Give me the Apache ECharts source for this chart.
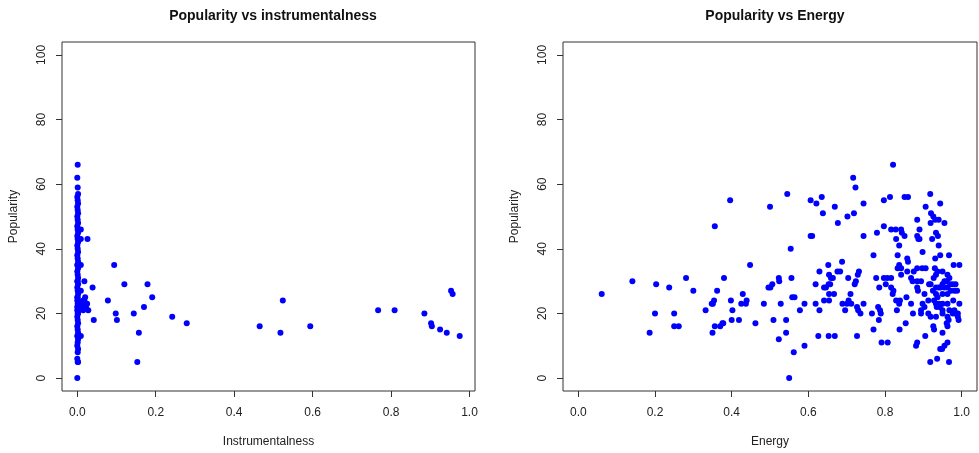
<!DOCTYPE html>
<html>
<head>
<meta charset="utf-8">
<script src="https://cdn.jsdelivr.net/npm/echarts@6/dist/echarts.min.js"></script>
<style>
html,body{margin:0;padding:0;background:#fff;}
#chart{width:979px;height:453px;}
</style>
</head>
<body>
<div id="chart"></div>
<script>
// ---- Tick labels ----
const xTickValues = [0, 0.2, 0.4, 0.6, 0.8, 1.0];
const xTickLabels = ['0.0', '0.2', '0.4', '0.6', '0.8', '1.0'];
const yTickValues = [0, 20, 40, 60, 80, 100];
const yTickLabels = ['0', '20', '40', '60', '80', '100'];

// ---- Popularity vs instrumentalness ----
const instX = [
  0, 0.001, 0.002, 0, 0.001, 0.002, 0, 0.001, 0.002, 0.001, 0, 0.002, 0.001, 0, 0.002, 0.001, 0, 0.002,
  0.001, 0, 0.002, 0.001, 0, 0.002, 0.001, 0, 0.002, 0.001, 0, 0.002, 0.001, 0, 0.002, 0.001, 0, 0.002,
  0.001, 0, 0.002, 0.001, 0, 0.002, 0.001, 0, 0.002, 0.001, 0, 0.002, 0.001, 0, 0.002, 0.001, 0, 0.002,
  0.001, 0, 0.002, 0.001, 0, 0.002, 0.001, 0, 0.002, 0.001, 0, 0.001,
  0.009, 0.009, 0.026, 0.009, 0.018, 0.009, 0.020, 0.015, 0.012, 0.009, 0.015, 0.028, 0.022, 0.025, 0.018,
  0.009, 0.042, 0.039, 0.078, 0.094, 0.098, 0.101, 0.120, 0.144, 0.153, 0.157, 0.170, 0.179, 0.191,
  0.242, 0.279, 0.465, 0.518, 0.524, 0.594, 0.767, 0.809, 0.885, 0.902, 0.904, 0.925, 0.942, 0.953, 0.957, 0.975
];
const instY = [
  0, 5, 5, 6, 8, 9, 10, 11, 12, 13, 13, 14, 15, 16, 17, 18, 19, 20,
  20, 21, 21, 22, 22, 23, 23, 24, 24, 25, 25, 26, 27, 28, 29, 30, 30, 31,
  32, 33, 34, 35, 35, 36, 37, 38, 39, 40, 41, 42, 43, 44, 45, 46, 47, 48,
  49, 50, 51, 52, 53, 54, 55, 56, 57, 59, 62, 66,
  46, 43, 43, 35, 30, 27, 25, 24, 23, 22, 21, 21, 22, 23, 24,
  13, 18, 28, 24, 35, 20, 18, 29, 20, 5, 14, 22, 29, 25,
  19, 17, 16, 14, 24, 16, 21, 21, 20, 17, 16, 15, 14, 27, 26, 13
];

// ---- Popularity vs Energy ----
const energyX = [
  0.061, 0.141, 0.203, 0.200, 0.186, 0.237, 0.250, 0.250, 0.262, 0.281, 0.300, 0.332, 0.348, 0.351, 0.354,
  0.356, 0.362, 0.350, 0.356, 0.370, 0.376, 0.378, 0.380, 0.396, 0.398, 0.402, 0.400, 0.419, 0.429, 0.425,
  0.437, 0.439, 0.448, 0.462, 0.484, 0.496,
  0.500, 0.501, 0.506, 0.523, 0.524, 0.509, 0.523, 0.528, 0.542, 0.542, 0.545, 0.550, 0.554, 0.556, 0.558,
  0.564, 0.562, 0.578, 0.590, 0.590, 0.606, 0.621, 0.635, 0.638, 0.669, 0.677, 0.606, 0.610, 0.619, 0.619,
  0.629, 0.626, 0.653, 0.669, 0.629, 0.641, 0.646, 0.653, 0.657, 0.652, 0.654, 0.659, 0.664, 0.654, 0.667,
  0.641, 0.654, 0.676, 0.683,
  0.821, 0.717, 0.723, 0.744, 0.797, 0.813, 0.851, 0.860, 0.918, 0.944, 0.906, 0.920, 0.926, 0.931, 0.940,
  0.955, 0.702, 0.719, 0.744, 0.779, 0.797, 0.816, 0.828, 0.842, 0.844, 0.851, 0.829, 0.837, 0.884, 0.890,
  0.919, 0.884, 0.887, 0.890, 0.923, 0.933, 0.938, 0.940, 0.898, 0.770, 0.688, 0.833, 0.858, 0.860, 0.931,
  0.944, 0.967, 0.979, 0.994, 0.732, 0.729, 0.724, 0.721, 0.704, 0.710, 0.689, 0.701, 0.705, 0.712, 0.696,
  0.727, 0.730, 0.736, 0.744, 0.777, 0.797, 0.806, 0.816, 0.785, 0.802, 0.816, 0.822, 0.820, 0.766, 0.782,
  0.787, 0.789, 0.784, 0.770, 0.727, 0.791, 0.807, 0.829, 0.837, 0.839, 0.831, 0.838, 0.854, 0.868, 0.856,
  0.873, 0.837, 0.833, 0.842, 0.842, 0.858, 0.868, 0.872, 0.884, 0.886, 0.875, 0.884, 0.897, 0.906, 0.884,
  0.894, 0.903, 0.898, 0.903, 0.894, 0.894, 0.913, 0.913, 0.915, 0.919, 0.927, 0.933, 0.930, 0.937, 0.950,
  0.963, 0.968, 0.955, 0.961, 0.970, 0.977, 0.984, 0.933, 0.940, 0.945, 0.950, 0.925, 0.933, 0.937, 0.955,
  0.963, 0.972, 0.981, 0.988, 0.950, 0.963, 0.928, 0.933, 0.941, 0.950, 0.963, 0.978, 0.994, 0.935, 0.943,
  0.950, 0.919, 0.933, 0.950, 0.968, 0.981, 0.990, 0.977, 0.984, 0.963, 0.966, 0.961, 0.963, 0.990, 0.992,
  0.926, 0.928, 0.950, 0.905, 0.963, 0.955, 0.949, 0.944, 0.884, 0.881, 0.918, 0.936, 0.967
];
const energyY = [
  26, 30, 29, 20, 14, 28, 20, 16, 16, 31, 27, 21, 23, 23, 24,
  47, 27, 14, 16, 16, 17, 17, 31, 55, 24, 21, 18, 18, 26, 23,
  23, 24, 35, 17, 23, 28,
  53, 28, 29, 31, 30, 18, 12, 23, 18, 14, 57, 0, 40, 31, 25,
  25, 8, 21, 23, 10, 55, 54, 56, 51, 53, 48, 44, 44, 29, 23,
  21, 13, 13, 13, 33, 28, 28, 29, 29, 35, 32, 31, 31, 26, 26,
  24, 24, 33, 33,
  66, 62, 59, 54, 55, 56, 56, 56, 57, 54, 53, 51, 50, 49, 49,
  48, 50, 51, 44, 45, 47, 46, 46, 46, 45, 44, 43, 41, 49, 46,
  48, 44, 43, 43, 43, 45, 44, 41, 39, 38, 36, 38, 37, 36, 37,
  38, 38, 35, 35, 33, 32, 30, 29, 31, 26, 23, 23, 24, 23, 21,
  22, 21, 20, 23, 31, 31, 31, 31, 28, 29, 28, 27, 26, 20, 22,
  21, 20, 18, 15, 13, 11, 11, 24, 23, 24, 21, 15, 17, 23, 25,
  20, 35, 34, 34, 32, 33, 31, 30, 28, 27, 33, 34, 34, 34, 30,
  30, 26, 23, 22, 21, 20, 20, 24, 29, 29, 31, 32, 34, 33, 33,
  32, 31, 30, 30, 29, 29, 29, 28, 28, 28, 29, 27, 26, 25, 28,
  28, 27, 27, 27, 26, 26, 24, 23, 23, 23, 23, 24, 23, 22, 22,
  21, 19, 19, 20, 21, 21, 20, 20, 20, 19, 18, 17, 16, 19, 18,
  16, 15, 14, 13, 11, 10, 9, 9, 11, 10, 5, 6, 5
];

const toPairs = (xs, ys) => xs.map((x, i) => [x, ys[i]]);

const FONT = 'Liberation Sans, Arial, sans-serif';
const TXT = '#222';

function xAxisDef(gridIndex, min, max, name) {
  return {
    type: 'value', gridIndex, min, max, name, position: 'bottom',
    nameLocation: 'middle', nameGap: 45,
    nameTextStyle: { fontFamily: FONT, fontSize: 12, color: TXT },
    axisLine: { show: false, onZero: false },
    splitLine: { show: false },
    axisTick: { show: true, inside: false, length: 6, customValues: xTickValues, lineStyle: { color: '#333' } },
    axisLabel: {
      customValues: xTickValues, margin: 16, fontFamily: FONT, fontSize: 12, color: TXT,
      formatter: v => xTickLabels[xTickValues.findIndex(t => Math.abs(t - v) < 1e-9)]
    }
  };
}
function yAxisDef(gridIndex, name) {
  return {
    type: 'value', gridIndex, min: -4, max: 104, name, position: 'left',
    nameLocation: 'middle', nameGap: 42, nameRotate: 90,
    nameTextStyle: { fontFamily: FONT, fontSize: 12, color: TXT },
    axisLine: { show: false, onZero: false },
    splitLine: { show: false },
    axisTick: { show: true, inside: false, length: 6, customValues: yTickValues, lineStyle: { color: '#333' } },
    axisLabel: {
      customValues: yTickValues, rotate: 90, margin: 14, fontFamily: FONT, fontSize: 12, color: TXT,
      formatter: v => yTickLabels[yTickValues.indexOf(v)]
    }
  };
}

const chart = echarts.init(document.getElementById('chart'), null, { renderer: 'canvas' });
chart.setOption({
  animation: false,
  backgroundColor: '#fff',
  title: [
    { text: 'Popularity vs instrumentalness', left: 268, top: 4, textAlign: 'center',
      textStyle: { fontFamily: FONT, fontSize: 14, fontWeight: 'bold', color: '#111' } },
    { text: 'Popularity vs Energy', left: 770, top: 4, textAlign: 'center',
      textStyle: { fontFamily: FONT, fontSize: 14, fontWeight: 'bold', color: '#111' } }
  ],
  grid: [
    { left: 62, top: 42, width: 413, height: 350, show: true, borderColor: '#333', borderWidth: 1, containLabel: false },
    { left: 563, top: 42, width: 414, height: 350, show: true, borderColor: '#333', borderWidth: 1, containLabel: false }
  ],
  xAxis: [
    xAxisDef(0, -0.039, 1.014, 'Instrumentalness'),
    xAxisDef(1, -0.04, 1.04, 'Energy')
  ],
  yAxis: [
    yAxisDef(0, 'Popularity'),
    yAxisDef(1, 'Popularity')
  ],
  series: [
    { type: 'scatter', xAxisIndex: 0, yAxisIndex: 0, data: toPairs(instX, instY),
      symbol: 'circle', symbolSize: 6, itemStyle: { color: '#0000ff', opacity: 1 } },
    { type: 'scatter', xAxisIndex: 1, yAxisIndex: 1, data: toPairs(energyX, energyY),
      symbol: 'circle', symbolSize: 6, itemStyle: { color: '#0000ff', opacity: 1 } }
  ]
});
</script>
</body>
</html>
